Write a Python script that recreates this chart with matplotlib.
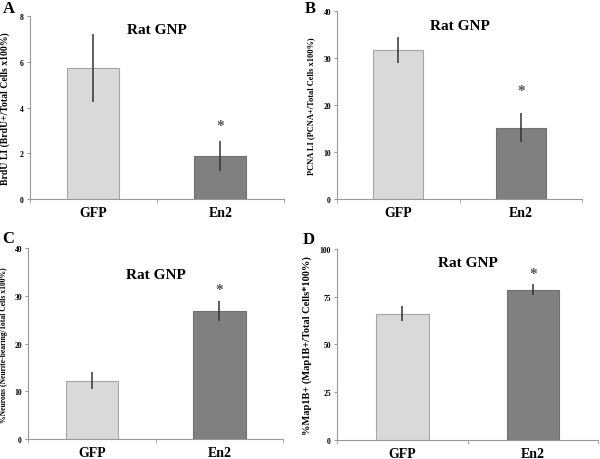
import matplotlib
matplotlib.use("Agg")
import matplotlib.pyplot as plt

plt.rcParams['font.family'] = ['Liberation Serif', 'DejaVu Serif']
plt.rcParams['font.weight'] = 'bold'

groups = ["GFP", "En2"]
letters = ["A", "B", "C", "D"]
ylabels = ["BrdU LI (BrdU+/Total Cells x100%)",
           "PCNA LI (PCNA+/Total Cells x100%)",
           "%Neurons (Neurite-bearing/Total Cells x100%)",
           "%Map1B+ (Map1B+/Total Cells*100%)"]
means = [[5.72, 1.9], [31.7, 15.2], [12.3, 26.8], [66.0, 78.5]]
errs = [[1.48, 0.66], [2.7, 3.0], [1.7, 2.1], [4.0, 2.9]]
ymax = [8, 40, 40, 100]
yticks = [[0, 2, 4, 6, 8], [0, 10, 20, 30, 40], [0, 10, 20, 30, 40], [0, 25, 50, 75, 100]]
star_y = [3.2, 23, 31.4, 87]
title_y = [7.4, 37, 34.5, 93]
ylab_size = [7, 6, 5.5, 7.5]
ylab_x = [-0.079, -0.09, -0.078, -0.096]

# axes boxes in figure fraction (left, bottom, width, height)
boxes = [[0.050, 0.565, 0.423, 0.398],
         [0.562, 0.565, 0.408, 0.409],
         [0.047, 0.043, 0.425, 0.415],
         [0.562, 0.041, 0.435, 0.416]]
bar_w = [0.41, 0.41, 0.41, 0.40]
# panel letter positions (figure fraction)
letter_xy = [(0.004, 0.980), (0.508, 0.980), (0.004, 0.480), (0.505, 0.478)]

fig = plt.figure(figsize=(6, 4.6), dpi=100)
for i in range(4):
    ax = fig.add_axes(boxes[i])
    x = [0, 1]
    ax.bar(x, means[i], width=bar_w[i], color=["#d9d9d9", "#808080"],
           edgecolor=["#a6a6a6", "#707070"], linewidth=0.8, zorder=2)
    ax.errorbar(x, means[i], yerr=errs[i], fmt="none", ecolor="#333333",
                elinewidth=1.1, capsize=0, zorder=3)
    ax.text(1, star_y[i], "*", ha="center", va="center", fontsize=11,
            color="#555555")
    ax.text(0.5, title_y[i], "Rat GNP", ha="center", va="center", fontsize=11,
            fontweight="bold")
    ax.set_xlim(-0.5, 1.5)
    ax.set_ylim(0, ymax[i])
    ax.set_yticks(yticks[i])
    ax.set_yticklabels([str(t) for t in yticks[i]], fontsize=5.5, fontweight="bold")
    ax.set_xticks([0, 1])
    ax.set_xticklabels(groups, fontsize=10, fontweight="bold")
    ax.set_xticks([-0.5, 0.5, 1.5], minor=True)
    ax.tick_params(axis="x", which="major", length=0, pad=5)
    ax.tick_params(axis="x", which="minor", length=3, color="#999999")
    ax.tick_params(axis="y", length=2.5, color="#999999", pad=2)
    for s in ["top", "right"]:
        ax.spines[s].set_visible(False)
    for s in ["left", "bottom"]:
        ax.spines[s].set_color("#999999")
        ax.spines[s].set_linewidth(0.8)
    ax.set_ylabel(ylabels[i], fontsize=ylab_size[i], fontweight="bold")
    ax.yaxis.set_label_coords(ylab_x[i], 0.5)
    fig.text(letter_xy[i][0], letter_xy[i][1], letters[i], fontsize=12,
             fontweight="bold", ha="left", va="center")

fig.savefig("out.png", dpi=100)
